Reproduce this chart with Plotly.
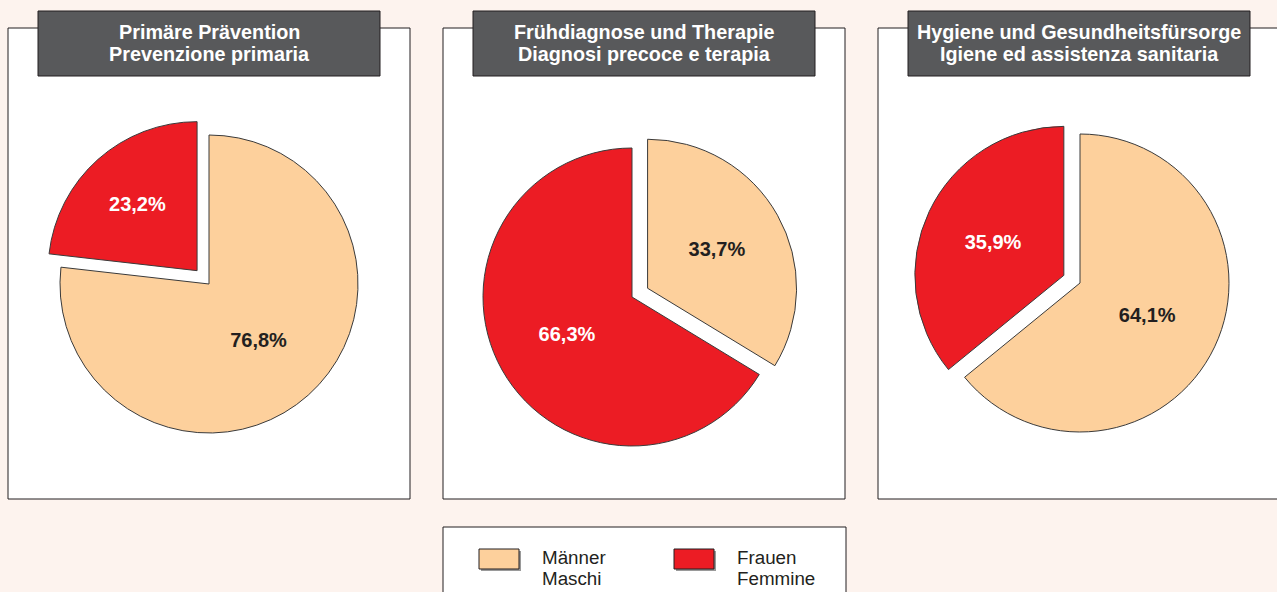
import plotly.graph_objects as go

W, H = 1277, 592

# ---- data ----
titles_de = ["Primäre Prävention", "Frühdiagnose und Therapie", "Hygiene und Gesundheitsfürsorge"]
titles_it = ["Prevenzione primaria", "Diagnosi precoce e terapia", "Igiene ed assistenza sanitaria"]
categories = ["Männer / Maschi", "Frauen / Femmine"]
maenner = [76.8, 33.7, 64.1]
frauen = [23.2, 66.3, 35.9]
pulled_index = [1, 0, 1]  # which slice is exploded in each pie
legend_de = ["Männer", "Frauen"]
legend_it = ["Maschi", "Femmine"]

# ---- styles ----
BG = "#fdf3ee"
BEIGE = "#fdd09c"
RED = "#ec1c24"
DARK = "#231f20"
TITLE_BG = "#58595b"
FONT = "Liberation Sans, Arial, sans-serif"
PULL = 0.12
R = 149

panel_x = [(8, 410), (443, 845), (878, 1280)]
panel_y = (28, 499)
title_x = [(38, 380), (473, 815), (908, 1250)]
title_y = (11, 76)
pie_centers = [(209, 284), (632, 297), (1080, 283)]


def px(x):
    return x / W


def py(y):
    return 1 - y / H


fig = go.Figure()
shapes = []
annotations = []

for i in range(3):
    x0, x1 = panel_x[i]
    shapes.append(dict(type="rect", xref="paper", yref="paper",
                       x0=px(x0), x1=px(x1), y0=py(panel_y[1]), y1=py(panel_y[0]),
                       line=dict(color=DARK, width=1), fillcolor="white", layer="below"))
    tx0, tx1 = title_x[i]
    shapes.append(dict(type="rect", xref="paper", yref="paper",
                       x0=px(tx0), x1=px(tx1), y0=py(title_y[1]), y1=py(title_y[0]),
                       line=dict(color=DARK, width=1), fillcolor=TITLE_BG, layer="below"))
    for line_text, yy in ((titles_de[i], 32), (titles_it[i], 54)):
        annotations.append(dict(xref="paper", yref="paper", x=px((tx0 + tx1) / 2),
                                y=py(yy), text=f"<b>{line_text}</b>",
                                showarrow=False, xanchor="center", yanchor="middle",
                                font=dict(family=FONT, size=19.8, color="white")))

    cx, cy = pie_centers[i]
    half = R * (1 + PULL)
    vals = [maenner[i], frauen[i]]
    texts = [f"<b>{v:.1f}%</b>".replace(".", ",") for v in vals]
    pulls = [PULL if k == pulled_index[i] else 0 for k in range(2)]
    fig.add_trace(go.Pie(
        labels=categories, values=vals, text=texts, textinfo="text",
        textposition="inside", insidetextorientation="horizontal",
        textfont=dict(family=FONT, size=20, color=[DARK, "white"]),
        marker=dict(colors=[BEIGE, RED], line=dict(color="#3a3a3a", width=1)),
        sort=False, direction="clockwise", rotation=0, pull=pulls,
        domain=dict(x=[px(cx - half), px(cx + half)], y=[py(cy + half), py(cy - half)]),
        showlegend=False, hoverinfo="label+percent",
    ))

# ---- legend box ----
shapes.append(dict(type="rect", xref="paper", yref="paper",
                   x0=px(443), x1=px(846), y0=py(600), y1=py(527),
                   line=dict(color=DARK, width=1), fillcolor="white", layer="below"))
sw_x = [479, 674]
txt_x = [541, 736]
for k, col in enumerate([BEIGE, RED]):
    x0 = sw_x[k]
    shapes.append(dict(type="rect", xref="paper", yref="paper",
                       x0=px(x0 + 2), x1=px(x0 + 42), y0=py(571), y1=py(551),
                       line=dict(width=0), fillcolor="#9a9a9a", layer="below"))
    shapes.append(dict(type="rect", xref="paper", yref="paper",
                       x0=px(x0), x1=px(x0 + 40), y0=py(569), y1=py(549),
                       line=dict(color=DARK, width=1), fillcolor=col, layer="above"))
    for line_text, yy in ((legend_de[k], 557), (legend_it[k], 578)):
        annotations.append(dict(xref="paper", yref="paper", x=px(txt_x[k] - 1), y=py(yy),
                                text=line_text, showarrow=False,
                                xanchor="left", yanchor="middle", align="left",
                                font=dict(family=FONT, size=18.8, color=DARK)))

fig.update_layout(
    width=W, height=H, margin=dict(l=0, r=0, t=0, b=0),
    paper_bgcolor=BG, plot_bgcolor=BG,
    shapes=shapes, annotations=annotations, showlegend=False,
)

fig.write_html("out.html", config={"displayModeBar": False})
